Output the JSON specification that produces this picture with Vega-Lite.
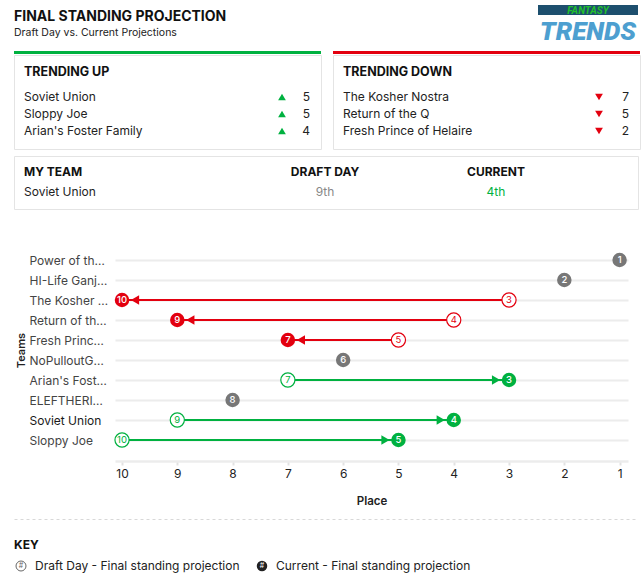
{
  "$schema": "https://vega.github.io/schema/vega-lite/v6.json",
  "padding": {"left": 13, "top": 5, "right": 5, "bottom": 0},
  "background": "white",
  "spacing": 9,
  "config": {
    "font": "Inter",
    "view": {"stroke": null},
    "title": {"font": "Inter"},
    "axis": {"labelFont": "Inter", "titleFont": "Inter"}
  },
  "vconcat": [
    {
      "width": 624,
      "height": 37,
      "title": {
        "text": "FINAL STANDING PROJECTION",
        "subtitle": "Draft Day vs. Current Projections",
        "anchor": "start",
        "offset": -33,
        "fontSize": 14,
        "fontWeight": 700,
        "color": "#111",
        "subtitleFontSize": 10.5,
        "subtitleColor": "#222",
        "subtitlePadding": 4
      },
      "data": {"values": [{"top": "FANTASY", "bottom": "TRENDS"}]},
      "layer": [
        {
          "mark": {"type": "rect", "color": "#1d4f6e", "clip": true},
          "encoding": {"x": {"value": 524}, "x2": {"value": "width"}, "y": {"value": 0}, "y2": {"value": 10}}
        },
        {
          "mark": {"type": "text", "font": "Roboto", "fontStyle": "italic", "fontWeight": "bold", "fontSize": 10, "color": "#22c02c", "baseline": "middle", "clip": true},
          "encoding": {"x": {"value": 574}, "y": {"value": 5.5}, "text": {"field": "top"}}
        },
        {
          "mark": {"type": "text", "font": "Roboto", "fontStyle": "italic", "fontWeight": 900, "fontSize": 26, "color": "#4d9fd0", "baseline": "alphabetic", "clip": true},
          "encoding": {"x": {"value": 574}, "y": {"value": 35}, "text": {"field": "bottom"}}
        }
      ]
    },
    {
      "spacing": 5,
      "vconcat": [
        {
          "hconcat": [
            {
              "spacing": 0,
              "vconcat": [
                {"width": 307, "height": 3, "view": {"fill": "#00b140", "stroke": null}, "data": {"values": []}, "mark": "point"},
                {
                  "width": 307,
                  "height": 94,
                  "view": {"fill": "white", "stroke": "#e4e4e4"},
                  "title": {"text": "TRENDING UP", "anchor": "start", "offset": -23, "dx": 10, "fontSize": 12.5, "fontWeight": 700, "color": "#111"},
                  "data": {"values": [
                    {"team": "Soviet Union", "change": 5},
                    {"team": "Sloppy Joe", "change": 5},
                    {"team": "Arian's Foster Family", "change": 4}
                  ]},
                  "encoding": {"y": {"field": "team", "type": "nominal", "sort": null, "scale": {"type": "point", "padding": 0, "range": [42, 76]}, "axis": null}},
                  "layer": [
                    {"mark": {"type": "text", "align": "left", "fontSize": 12, "color": "#222"}, "encoding": {"x": {"value": 10}, "text": {"field": "team"}}},
                    {"mark": {"type": "point", "shape": "triangle-up", "filled": true, "size": 60, "color": "#00b140", "opacity": 1}, "encoding": {"x": {"value": 268}}},
                    {"mark": {"type": "text", "align": "right", "fontSize": 12, "color": "#222"}, "encoding": {"x": {"value": 296}, "text": {"field": "change"}}}
                  ]
                }
              ]
            },
            {
              "spacing": 0,
              "vconcat": [
                {"width": 307, "height": 3, "view": {"fill": "#e3000f", "stroke": null}, "data": {"values": []}, "mark": "point"},
                {
                  "width": 307,
                  "height": 94,
                  "view": {"fill": "white", "stroke": "#e4e4e4"},
                  "title": {"text": "TRENDING DOWN", "anchor": "start", "offset": -23, "dx": 10, "fontSize": 12.5, "fontWeight": 700, "color": "#111"},
                  "data": {"values": [
                    {"team": "The Kosher Nostra", "change": 7},
                    {"team": "Return of the Q", "change": 5},
                    {"team": "Fresh Prince of Helaire", "change": 2}
                  ]},
                  "encoding": {"y": {"field": "team", "type": "nominal", "sort": null, "scale": {"type": "point", "padding": 0, "range": [42, 76]}, "axis": null}},
                  "layer": [
                    {"mark": {"type": "text", "align": "left", "fontSize": 12, "color": "#222"}, "encoding": {"x": {"value": 10}, "text": {"field": "team"}}},
                    {"mark": {"type": "point", "shape": "triangle-down", "filled": true, "size": 60, "color": "#e3000f", "opacity": 1}, "encoding": {"x": {"value": 266}}},
                    {"mark": {"type": "text", "align": "right", "fontSize": 12, "color": "#222"}, "encoding": {"x": {"value": 296}, "text": {"field": "change"}}}
                  ]
                }
              ]
            }
          ],
          "spacing": 10
        },
        {
          "width": 624,
          "height": 53,
          "view": {"fill": "white", "stroke": "#e4e4e4"},
          "data": {"values": [{"team": "Soviet Union", "draft": "9th", "current": "4th"}]},
          "layer": [
            {"mark": {"type": "text", "align": "left", "fontSize": 12, "fontWeight": 700, "color": "#111", "text": "MY TEAM"}, "encoding": {"x": {"value": 10}, "y": {"value": 16}}},
            {"mark": {"type": "text", "align": "left", "fontSize": 12, "color": "#222"}, "encoding": {"x": {"value": 10}, "y": {"value": 36}, "text": {"field": "team"}}},
            {"mark": {"type": "text", "align": "center", "fontSize": 12, "fontWeight": 700, "color": "#111", "text": "DRAFT DAY"}, "encoding": {"x": {"value": 311}, "y": {"value": 16}}},
            {"mark": {"type": "text", "align": "center", "fontSize": 12, "color": "#888"}, "encoding": {"x": {"value": 311}, "y": {"value": 36}, "text": {"field": "draft"}}},
            {"mark": {"type": "text", "align": "center", "fontSize": 12, "fontWeight": 700, "color": "#111", "text": "CURRENT"}, "encoding": {"x": {"value": 482}, "y": {"value": 16}}},
            {"mark": {"type": "text", "align": "center", "fontSize": 12, "color": "#00b140"}, "encoding": {"x": {"value": 482}, "y": {"value": 36}, "text": {"field": "current"}}}
          ]
        }
      ]
    },
    {
      "spacing": 12,
      "vconcat": [
        {
          "spacing": 0,
          "hconcat": [
            {"width": 0.01, "height": 1, "data": {"values": []}, "mark": "point"},
            {
              "width": 513,
              "height": 242,
              "data": {"values": [
                {"team": "Power of th…", "draft": 1, "current": 1, "trend": "same"},
                {"team": "HI-Life Ganj…", "draft": 2, "current": 2, "trend": "same"},
                {"team": "The Kosher Nostra", "draft": 3, "current": 10, "trend": "down"},
                {"team": "Return of the Q", "draft": 4, "current": 9, "trend": "down"},
                {"team": "Fresh Prince of Helaire", "draft": 5, "current": 7, "trend": "down"},
                {"team": "NoPulloutG…", "draft": 6, "current": 6, "trend": "same"},
                {"team": "Arian's Foster Family", "draft": 7, "current": 3, "trend": "up"},
                {"team": "ELEFTHERI…", "draft": 8, "current": 8, "trend": "same"},
                {"team": "Soviet Union", "draft": 9, "current": 4, "trend": "up"},
                {"team": "Sloppy Joe", "draft": 10, "current": 5, "trend": "up"}
              ]},
              "encoding": {
                "y": {
                  "field": "team", "type": "nominal", "sort": null, "title": "Teams",
                  "scale": {"type": "point", "padding": 0, "range": [41, 221],
                    "domain": ["Power of th…", "HI-Life Ganj…", "The Kosher Nostra", "Return of the Q", "Fresh Prince of Helaire", "NoPulloutG…", "Arian's Foster Family", "ELEFTHERI…", "Soviet Union", "Sloppy Joe"]},
                  "axis": {
                    "grid": true, "gridColor": "#ececec", "gridWidth": 2,
                    "domain": false, "ticks": false, "tickSize": 0,
                    "labelAlign": "left", "labelPadding": 86, "labelLimit": 80, "labelFontSize": 12,
                    "labelColor": {"condition": {"test": "datum.value === 'Soviet Union'", "value": "#1a1a1a"}, "value": "#444"},
                    "titleFontSize": 11, "titleFontWeight": 600, "titleColor": "#222", "titlePadding": 3
                  }
                },
                "color": {"field": "trend", "type": "nominal", "scale": {"domain": ["down", "same", "up"], "range": ["#e3000f", "#777777", "#00b140"]}, "legend": null}
              },
              "layer": [
                {
                  "transform": [{"filter": "datum.trend !== 'same'"}],
                  "mark": {"type": "rule", "strokeWidth": 2},
                  "encoding": {
                    "x": {"field": "draft", "type": "quantitative", "title": "Place",
                      "scale": {"domain": [0.848, 10.127], "reverse": true, "nice": false, "zero": false},
                      "axis": {"values": [10, 9, 8, 7, 6, 5, 4, 3, 2, 1], "format": "d", "grid": false,
                        "domainColor": "#ececec", "domainWidth": 2.5, "tickColor": "#e2e2e2", "tickWidth": 2, "tickSize": 4,
                        "labelPadding": 3, "labelFontSize": 12, "labelColor": "#222",
                        "titleFontSize": 11.5, "titleFontWeight": 600, "titleColor": "#222", "titlePadding": 16}},
                    "x2": {"field": "current"}
                  }
                },
                {
                  "transform": [{"filter": "datum.trend === 'down'"}],
                  "mark": {"type": "point", "shape": "triangle-left", "filled": true, "size": 90, "opacity": 1, "xOffset": 13},
                  "encoding": {"x": {"field": "current", "type": "quantitative", "scale": {"domain": [0.848, 10.127], "reverse": true, "nice": false, "zero": false}}}
                },
                {
                  "transform": [{"filter": "datum.trend === 'up'"}],
                  "mark": {"type": "point", "shape": "triangle-right", "filled": true, "size": 90, "opacity": 1, "xOffset": -13},
                  "encoding": {"x": {"field": "current", "type": "quantitative", "scale": {"domain": [0.848, 10.127], "reverse": true, "nice": false, "zero": false}}}
                },
                {
                  "transform": [{"filter": "datum.trend !== 'same'"}],
                  "mark": {"type": "point", "shape": "circle", "filled": false, "fill": "white", "strokeWidth": 1.2, "size": 200, "opacity": 1},
                  "encoding": {"x": {"field": "draft", "type": "quantitative", "scale": {"domain": [0.848, 10.127], "reverse": true, "nice": false, "zero": false}}}
                },
                {
                  "transform": [{"filter": "datum.trend !== 'same'"}],
                  "mark": {"type": "text", "fontSize": 9.5, "baseline": "middle"},
                  "encoding": {"x": {"field": "draft", "type": "quantitative", "scale": {"domain": [0.848, 10.127], "reverse": true, "nice": false, "zero": false}}, "text": {"field": "draft"}}
                },
                {
                  "mark": {"type": "point", "shape": "circle", "filled": true, "size": 210, "opacity": 1},
                  "encoding": {"x": {"field": "current", "type": "quantitative", "scale": {"domain": [0.848, 10.127], "reverse": true, "nice": false, "zero": false}}}
                },
                {
                  "mark": {"type": "text", "fontSize": 9.5, "fontWeight": 500, "baseline": "middle"},
                  "encoding": {"x": {"field": "current", "type": "quantitative", "scale": {"domain": [0.848, 10.127], "reverse": true, "nice": false, "zero": false}}, "text": {"field": "current"}, "color": {"value": "white"}}
                }
              ]
            }
          ]
        },
        {
          "width": 624,
          "height": 56,
          "title": {"text": "KEY", "anchor": "start", "offset": -33, "fontSize": 12, "fontWeight": 700, "color": "#111"},
          "data": {"values": [
            {"kind": "draft", "label": "Draft Day - Final standing projection"},
            {"kind": "current", "label": "Current - Final standing projection"}
          ]},
          "encoding": {
            "x": {"field": "kind", "type": "nominal", "sort": null, "bandPosition": 0,
              "scale": {"type": "band", "paddingInner": 0, "paddingOuter": 0.2946, "align": 0},
              "axis": {"orient": "top", "title": null, "labels": false, "ticks": false, "domainColor": "#d8d8d8", "domainDash": [3, 3], "domainWidth": 1}}
          },
          "layer": [
            {"transform": [{"filter": "datum.kind === 'draft'"}], "mark": {"type": "point", "shape": "circle", "filled": false, "fill": "white", "stroke": "#666", "strokeWidth": 1, "size": 100, "opacity": 1, "xOffset": 7, "yOffset": 19}},
            {"transform": [{"filter": "datum.kind === 'draft'"}], "mark": {"type": "text", "text": "#", "fontSize": 7, "color": "#666", "baseline": "middle", "dx": 7, "dy": 19}},
            {"transform": [{"filter": "datum.kind === 'current'"}], "mark": {"type": "point", "shape": "circle", "filled": true, "color": "#222", "size": 110, "opacity": 1, "xOffset": 7, "yOffset": 19}},
            {"transform": [{"filter": "datum.kind === 'current'"}], "mark": {"type": "text", "text": "#", "fontSize": 7, "color": "white", "baseline": "middle", "dx": 7, "dy": 19}},
            {"mark": {"type": "text", "align": "left", "fontSize": 12, "color": "#222", "baseline": "middle", "dx": 21, "dy": 19}, "encoding": {"text": {"field": "label"}}}
          ]
        }
      ]
    }
  ]
}
